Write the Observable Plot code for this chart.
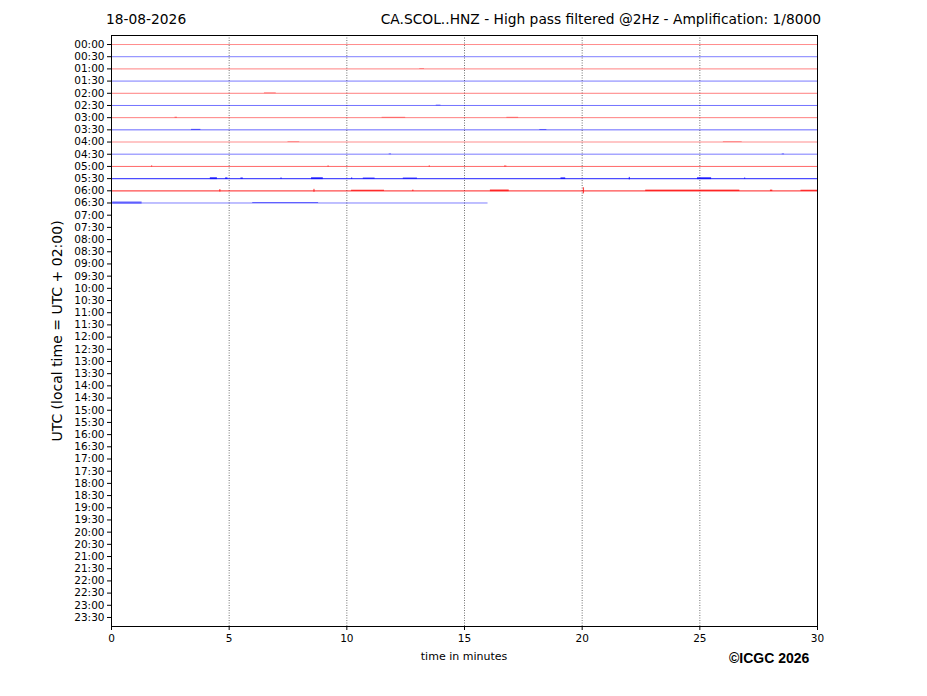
<!DOCTYPE html>
<html>
<head>
<meta charset="utf-8">
<script src="https://cdn.jsdelivr.net/npm/d3@7"></script>
<script src="https://cdn.jsdelivr.net/npm/@observablehq/plot@0.6"></script>
<style>
  body { margin: 0; background: #fff; }
  #chart { position: relative; width: 927px; height: 696px; font-family: "DejaVu Sans", sans-serif; }
  #chart svg { position: absolute; left: 0; top: 0; }
  .txt { position: absolute; white-space: nowrap; color: #000; }
</style>
</head>
<body>
<div id="chart">
  <div class="txt" style="left:106px; top:11px; font-size:13.8px;">18-08-2026</div>
  <div class="txt" style="right:106px; top:11px; font-size:13.8px;">CA.SCOL..HNZ - High pass filtered @2Hz - Amplification: 1/8000</div>
  <div class="txt" style="left:57px; top:331px; font-size:14px; transform:translate(-50%,-50%) rotate(-90deg);">UTC (local time = UTC + 02:00)</div>
  <div class="txt" style="left:464px; top:650px; font-size:11px; transform:translateX(-50%);">time in minutes</div>
  <div class="txt" style="left:729px; top:650px; font-size:14px; font-weight:bold; font-family:'Liberation Sans', Arial, sans-serif;">©ICGC 2026</div>
</div>
<script>
// row labels (UTC, one row per half hour)
const rowLabels = [
  "00:00","00:30","01:00","01:30","02:00","02:30","03:00","03:30",
  "04:00","04:30","05:00","05:30","06:00","06:30","07:00","07:30",
  "08:00","08:30","09:00","09:30","10:00","10:30","11:00","11:30",
  "12:00","12:30","13:00","13:30","14:00","14:30","15:00","15:30",
  "16:00","16:30","17:00","17:30","18:00","18:30","19:00","19:30",
  "20:00","20:30","21:00","21:30","22:00","22:30","23:00","23:30"
];
const xTicks = [0, 5, 10, 15, 20, 25, 30];
const gridMinutes = [5, 10, 15, 20, 25];

// recorded rows: index, minutes of data, trace colour, opacity
const traceRow = [0, 1, 2, 3, 4, 5, 6, 7, 8, 9, 10, 11, 12, 13];
const traceEnd = [30, 30, 30, 30, 30, 30, 30, 30, 30, 30, 30, 30, 30, 16.0];
const traceColor = ["red","blue","red","blue","red","blue","red","blue","red","blue","red","blue","red","blue"];
const traceOpacity = [0.45, 0.5, 0.4, 0.3, 0.5, 0.55, 0.5, 0.6, 0.3, 0.35, 0.6, 0.7, 0.7, 0.5];
const traceWidth = [1, 1, 1.3, 1.8, 1, 1, 1, 1, 1.6, 1.6, 1, 1.2, 1.2, 1];

// bursts of signal: [row, start minute, end minute, half amplitude in rows]
const bursts = [
  [2, 13.1, 13.3, 0.03],
  [4, 6.5, 7.0, 0.03],
  [5, 13.8, 14.0, 0.03],
  [6, 2.7, 2.8, 0.04], [6, 11.5, 12.5, 0.03], [6, 16.8, 17.3, 0.03],
  [7, 3.4, 3.8, 0.04], [7, 18.2, 18.5, 0.03],
  [8, 7.5, 8.0, 0.04], [8, 26.0, 26.8, 0.04],
  [9, 11.8, 11.9, 0.05], [9, 28.5, 28.6, 0.05],
  [10, 1.7, 1.75, 0.05], [10, 9.2, 9.25, 0.05], [10, 13.5, 13.55, 0.05], [10, 16.7, 16.8, 0.04],
  [11, 4.2, 4.5, 0.08], [11, 4.85, 4.95, 0.07], [11, 5.5, 5.6, 0.06], [11, 7.2, 7.25, 0.06],
  [11, 8.5, 9.0, 0.08], [11, 10.2, 10.25, 0.06], [11, 10.7, 11.2, 0.05], [11, 12.4, 13.0, 0.05],
  [11, 19.1, 19.3, 0.07], [11, 22.0, 22.05, 0.1], [11, 24.9, 25.5, 0.08], [11, 26.9, 26.95, 0.05],
  [12, 4.6, 4.65, 0.1], [12, 8.6, 8.65, 0.12], [12, 10.2, 11.6, 0.05], [12, 12.8, 12.85, 0.06],
  [12, 16.1, 16.9, 0.07], [12, 20.05, 20.1, 0.25], [12, 22.7, 26.7, 0.06], [12, 28.0, 28.1, 0.06],
  [12, 29.3, 30.0, 0.05],
  [13, 0.05, 1.3, 0.09], [13, 6.0, 8.8, 0.04]
];

const traces = traceRow.map((r, i) => ({row: r, end: traceEnd[i], color: traceColor[i], opacity: traceOpacity[i], width: traceWidth[i]}));
const burstRows = bursts.map(([row, x1, x2, amp]) => ({
  row, x1, x2, amp,
  color: traceColor[row],
  opacity: traceOpacity[row]
}));

const chart = Plot.plot({
  width: 927,
  height: 696,
  marginLeft: 111,
  marginRight: 110,
  marginTop: 35,
  marginBottom: 70,
  style: {fontFamily: "DejaVu Sans, sans-serif", fontSize: "10.5px", color: "#000", background: "transparent"},
  x: {domain: [0, 30], ticks: xTicks, tickSize: 4, tickPadding: 4, label: null},
  y: {domain: [47.74, -0.74], label: null, ticks: d3.range(rowLabels.length), tickFormat: (d) => rowLabels[d], tickSize: 4, tickPadding: 3},
  marks: [
    Plot.ruleX(gridMinutes, {stroke: "#000", strokeWidth: 0.7, strokeDasharray: "1,1.5", strokeOpacity: 0.8}),
    Plot.ruleY(traces, {y: "row", x1: 0, x2: "end", stroke: "color", strokeOpacity: "opacity", strokeWidth: "width"}),
    Plot.rect(burstRows, {x1: "x1", x2: "x2", y1: (d) => d.row - d.amp, y2: (d) => d.row + d.amp, fill: "color", fillOpacity: "opacity"}),
    Plot.frame({stroke: "#000", strokeWidth: 1})
  ]
});
document.getElementById("chart").prepend(chart);
</script>
</body>
</html>
